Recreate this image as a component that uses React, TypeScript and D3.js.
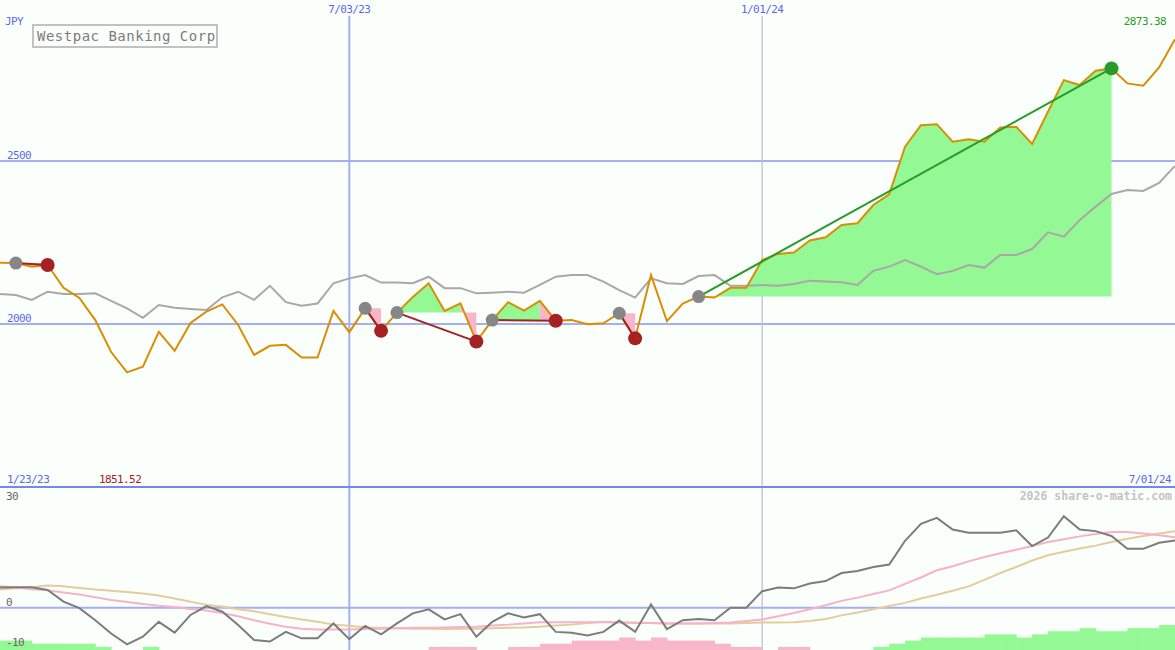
import * as d3 from "d3";

/** svg dimensions */
const width = 1175;
const height = 650;
const panelSplit = 487;

// weekly closes, 30 Jan 2023 .. 1 Jul 2024 (JPY)
const price = [
  2188, 2187, 2176, 2181, 2111, 2080, 2012, 1914, 1851.52, 1869,
  1976, 1918, 2003, 2038, 2060, 1997, 1905, 1933, 1936, 1897,
  1897, 2040, 1975, 2048, 1979, 2035, 2083, 2125, 2040, 2063,
  1946, 2012, 2067, 2041, 2071, 2010, 2012, 1999, 2002, 2033,
  1956, 2150, 2009, 2063, 2084, 2081, 2111, 2111, 2196, 2215,
  2219, 2256, 2266, 2304, 2309, 2365, 2398, 2544, 2610, 2613,
  2559, 2567, 2559, 2603, 2605, 2552, 2651, 2748, 2733, 2777,
  2784, 2738, 2731, 2787, 2873.38,
];

// market comparison line, rebased to price
const market = [
  2092, 2089, 2074, 2099, 2092, 2092, 2094, 2071, 2048, 2019,
  2058, 2050, 2046, 2043, 2082, 2099, 2074, 2117, 2067, 2056,
  2063, 2125, 2140, 2150, 2127, 2127, 2125, 2145, 2110, 2110,
  2094, 2096, 2099, 2096, 2120, 2145, 2150, 2150, 2130, 2104,
  2081, 2140, 2125, 2123, 2147, 2150, 2117, 2117, 2120, 2117,
  2123, 2133, 2130, 2128, 2120, 2163, 2176, 2196, 2176, 2153,
  2163, 2181, 2173, 2212, 2212, 2230, 2281, 2268, 2319, 2360,
  2399, 2411, 2408, 2433, 2485,
];

// lower panel oscillator and its two averages
const oscillator = [
  5.0, 5.1, 5.1, 4.4, 1.5, -0.1, -3.1, -6.4, -9.1, -7.2,
  -3.5, -6.2, -1.8, 0.4, -1.0, -4.3, -8.0, -8.4, -6.0, -7.6,
  -7.6, -3.9, -7.8, -4.5, -6.6, -3.9, -1.4, -0.4, -2.9, -1.6,
  -7.2, -3.5, -1.4, -2.4, -1.6, -6.0, -6.2, -6.9, -6.0, -3.2,
  -6.0, 0.8, -5.3, -3.1, -2.8, -3.1, 0, 0, 4.1, 5.0,
  4.8, 6.0, 6.6, 8.6, 9.1, 10.1, 10.7, 16.6, 20.8, 22.3,
  19.4, 18.6, 18.6, 18.6, 19.2, 15.3, 17.4, 22.7, 19.4, 19.0,
  17.8, 14.6, 14.6, 16.1, 16.7,
];
const oscFast = [
  5.3, 5.0, 4.6, 4.3, 3.8, 3.3, 2.6, 1.9, 1.4, 0.9,
  0.5, 0.2, -0.3, -0.7, -1.3, -2.1, -3.1, -4.0, -4.7, -5.2,
  -5.4, -5.4, -5.4, -5.3, -5.2, -5.1, -5.0, -5.0, -4.9, -4.8,
  -4.7, -4.4, -4.2, -3.9, -3.6, -3.6, -3.6, -3.6, -3.6, -3.7,
  -3.8, -3.8, -3.9, -3.9, -3.9, -3.8, -3.7, -3.3, -2.9, -2.1,
  -1.3, -0.4, 0.6, 1.7, 2.5, 3.4, 4.3, 5.9, 7.5, 9.3,
  10.3, 11.5, 12.6, 13.5, 14.4, 15.3, 16.3, 17.0, 17.7, 18.3,
  18.8, 18.8, 18.4, 18.0, 17.5,
];
const oscSlow = [
  4.5, 4.8, 5.1, 5.5, 5.3, 4.9, 4.5, 4.2, 3.9, 3.5,
  3.0, 2.3, 1.5, 0.7, 0.3, -0.4, -0.9, -1.6, -2.3, -2.9,
  -3.5, -4.2, -4.5, -4.9, -5.0, -5.1, -5.2, -5.2, -5.3, -5.2,
  -5.2, -5.1, -5.0, -4.9, -4.7, -4.4, -4.2, -3.8, -3.5, -3.6,
  -3.7, -3.8, -3.9, -3.9, -3.9, -3.9, -3.9, -3.8, -3.7, -3.7,
  -3.6, -3.3, -2.8, -1.9, -1.2, -0.4, 0.4, 1.2, 2.3, 3.2,
  4.2, 5.3, 6.9, 8.6, 10.1, 11.7, 13.0, 13.9, 14.7, 15.4,
  16.3, 17.1, 17.8, 18.4, 19.0,
];

// signal histogram: + green, - pink
const signal = [
  3, 3, 2, 2, 2, 2, 1, 0, 0, 1,
  0, 0, 0, 0, 0, 0, 0, 0, 0, 0,
  0, 0, 0, 0, 0, 0, 0, -1, -1, -1,
  0, 0, -1, -1, -2, -2, -3, -3, -3, -4,
  -3, -4, -3, -3, -3, -2, -1, -1, 0, -1,
  -1, 0, 0, 0, 0, 1, 2, 3, 4, 4,
  4, 4, 5, 5, 4, 5, 6, 6, 7, 6,
  6, 7, 7, 8,
];

// trades (week index of entry and exit)
const tradeStart = [1, 23, 25, 31, 39, 44];
const tradeEnd = [3, 24, 30, 35, 40, 70];

const priceTicks = [2500, 2000];
const oscTicks = [30, 0, -10];
const dateGrid = [new Date(2023, 6, 3), new Date(2024, 0, 1)];
const firstLabel = "1/23/23";
const lastLabel = "7/01/24";

const dates = d3.timeMonday.range(new Date(2023, 0, 30), new Date(2024, 6, 2));

const mono = "'DejaVu Sans Mono', monospace";
const blue = "#5a68f0";
const green = "#2a9a2a";
const red = "#a42222";
const fillGreen = "#94f894";
const fillPink = "#f8b6ca";

const App = () => {
  const x = d3.scaleTime().domain([dates[0], dates[dates.length - 1]]).range([0, width]);
  const y = d3.scaleLinear().domain([2000, 2500]).range([324, 161]);
  const yo = d3.scaleLinear().domain([0, -10]).range([607.7, 648]);
  const yb = d3.scaleLinear().domain([0, 8]).range([height, 625]);

  const priceLine = d3.line<number>().x((_, i) => x(dates[i])).y((d) => y(d));
  const oscLine = d3.line<number>().x((_, i) => x(dates[i])).y((d) => yo(d));
  const fmt = d3.timeFormat("%-m/%d/%y");

  const minIdx = d3.minIndex(price);
  const maxIdx = d3.maxIndex(price);

  // fill between entry level and price; each week coloured by whether it closed above entry
  const tradeFills: JSX.Element[] = [];
  tradeStart.forEach((s, t) => {
    const e = tradeEnd[t];
    const level = price[s];
    const seg = d3
      .area<number>()
      .x((k) => x(dates[k]))
      .y0(y(level))
      .y1((k) => y(price[k]));
    let run = [s];
    let up = price[s + 1] >= level;
    for (let i = s; i < e; i++) {
      const u = price[i + 1] >= level;
      if (u !== up) {
        tradeFills.push(
          <path key={`f${t}-${i}`} d={seg(run) ?? ""} fill={up ? fillGreen : fillPink} />
        );
        run = [i];
        up = u;
      }
      run.push(i + 1);
    }
    tradeFills.push(
      <path key={`f${t}-end`} d={seg(run) ?? ""} fill={up ? fillGreen : fillPink} />
    );
  });

  return (
    <div style={{ position: "fixed", left: 0, top: 0 }}>
      <svg width={width} height={height} style={{ display: "block", background: "#fbfffb" }}>
        {/* grid */}
        {priceTicks.map((t) => (
          <line key={t} x1={0} x2={width} y1={y(t)} y2={y(t)} stroke="#a4aef2" strokeWidth={2} />
        ))}
        <line x1={0} x2={width} y1={yo(0)} y2={yo(0)} stroke="#a4aef2" strokeWidth={2} />
        <line x1={x(dateGrid[0])} x2={x(dateGrid[0])} y1={16} y2={height} stroke="#a4aef2" strokeWidth={2} />
        <line x1={x(dateGrid[1])} x2={x(dateGrid[1])} y1={16} y2={height} stroke="#bcbfd8" strokeWidth={1.3} />
        <line x1={0} x2={width} y1={panelSplit} y2={panelSplit} stroke="#7686f0" strokeWidth={2} />

        {/* trade fills */}
        {tradeFills}

        {/* lines */}
        <path d={priceLine(market) ?? ""} fill="none" stroke="#a8a8a8" strokeWidth={2} />
        <path d={priceLine(price) ?? ""} fill="none" stroke="#d98e04" strokeWidth={2} />

        {/* trade connectors and markers */}
        {tradeStart.map((s, t) => {
          const e = tradeEnd[t];
          const win = price[e] >= price[s];
          return (
            <g key={`t${t}`}>
              <line
                x1={x(dates[s])}
                y1={y(price[s])}
                x2={x(dates[e])}
                y2={y(price[e])}
                stroke={win ? green : red}
                strokeWidth={2}
              />
              <circle cx={x(dates[s])} cy={y(price[s])} r={6.5} fill="#868686" />
              <circle cx={x(dates[e])} cy={y(price[e])} r={7} fill={win ? green : red} />
            </g>
          );
        })}

        {/* lower panel */}
        {signal.map((v, i) =>
          v === 0 ? null : (
            <rect
              key={`b${i}`}
              x={x(dates[i])}
              width={x(dates[i + 1]) - x(dates[i]) + 0.5}
              y={yb(Math.abs(v))}
              height={height - yb(Math.abs(v))}
              fill={v > 0 ? fillGreen : fillPink}
            />
          )
        )}
        <path d={oscLine(oscSlow) ?? ""} fill="none" stroke="#e4cc9c" strokeWidth={2} />
        <path d={oscLine(oscFast) ?? ""} fill="none" stroke="#f8b2c8" strokeWidth={2} />
        <path d={oscLine(oscillator) ?? ""} fill="none" stroke="#7c7c7c" strokeWidth={2} />

        {/* labels */}
        <g fontFamily={mono} fontSize={11} letterSpacing={-0.6}>
          <text x={5} y={25} fill={blue}>JPY</text>
          {dateGrid.map((d) => (
            <text key={+d} x={x(d)} y={13} fill={blue} textAnchor="middle">
              {fmt(d)}
            </text>
          ))}
          <text x={1166} y={25} fill={green} textAnchor="end">
            {price[maxIdx].toFixed(2)}
          </text>
          {priceTicks.map((t) => (
            <text key={t} x={7} y={y(t) - 2} fill={blue}>
              {t}
            </text>
          ))}
          <text x={7} y={483} fill={blue}>{firstLabel}</text>
          <text x={99} y={483} fill={red}>{price[minIdx].toFixed(2)}</text>
          <text x={1171} y={483} fill={blue} textAnchor="end">{lastLabel}</text>
          <text x={6} y={500} fill="#666">{oscTicks[0]}</text>
          <text x={6} y={yo(oscTicks[1]) - 2} fill="#666">{oscTicks[1]}</text>
          <text x={6} y={646} fill="#666">{oscTicks[2]}</text>
        </g>
        <text
          x={1172}
          y={500}
          textAnchor="end"
          fontFamily={mono}
          fontSize={11.5}
          fontWeight="bold"
          fill="#c4c4c4"
        >
          2026 share-o-matic.com
        </text>

        {/* title box */}
        <rect x={33} y={25} width={184} height={22} fill="#fbfffb" stroke="#c2c2c2" strokeWidth={2} />
        <text x={37} y={41} fontFamily={mono} fontSize={14} letterSpacing={0.5} fill="#7c7c7c">
          Westpac Banking Corp
        </text>
      </svg>
    </div>
  );
};

export default App;
